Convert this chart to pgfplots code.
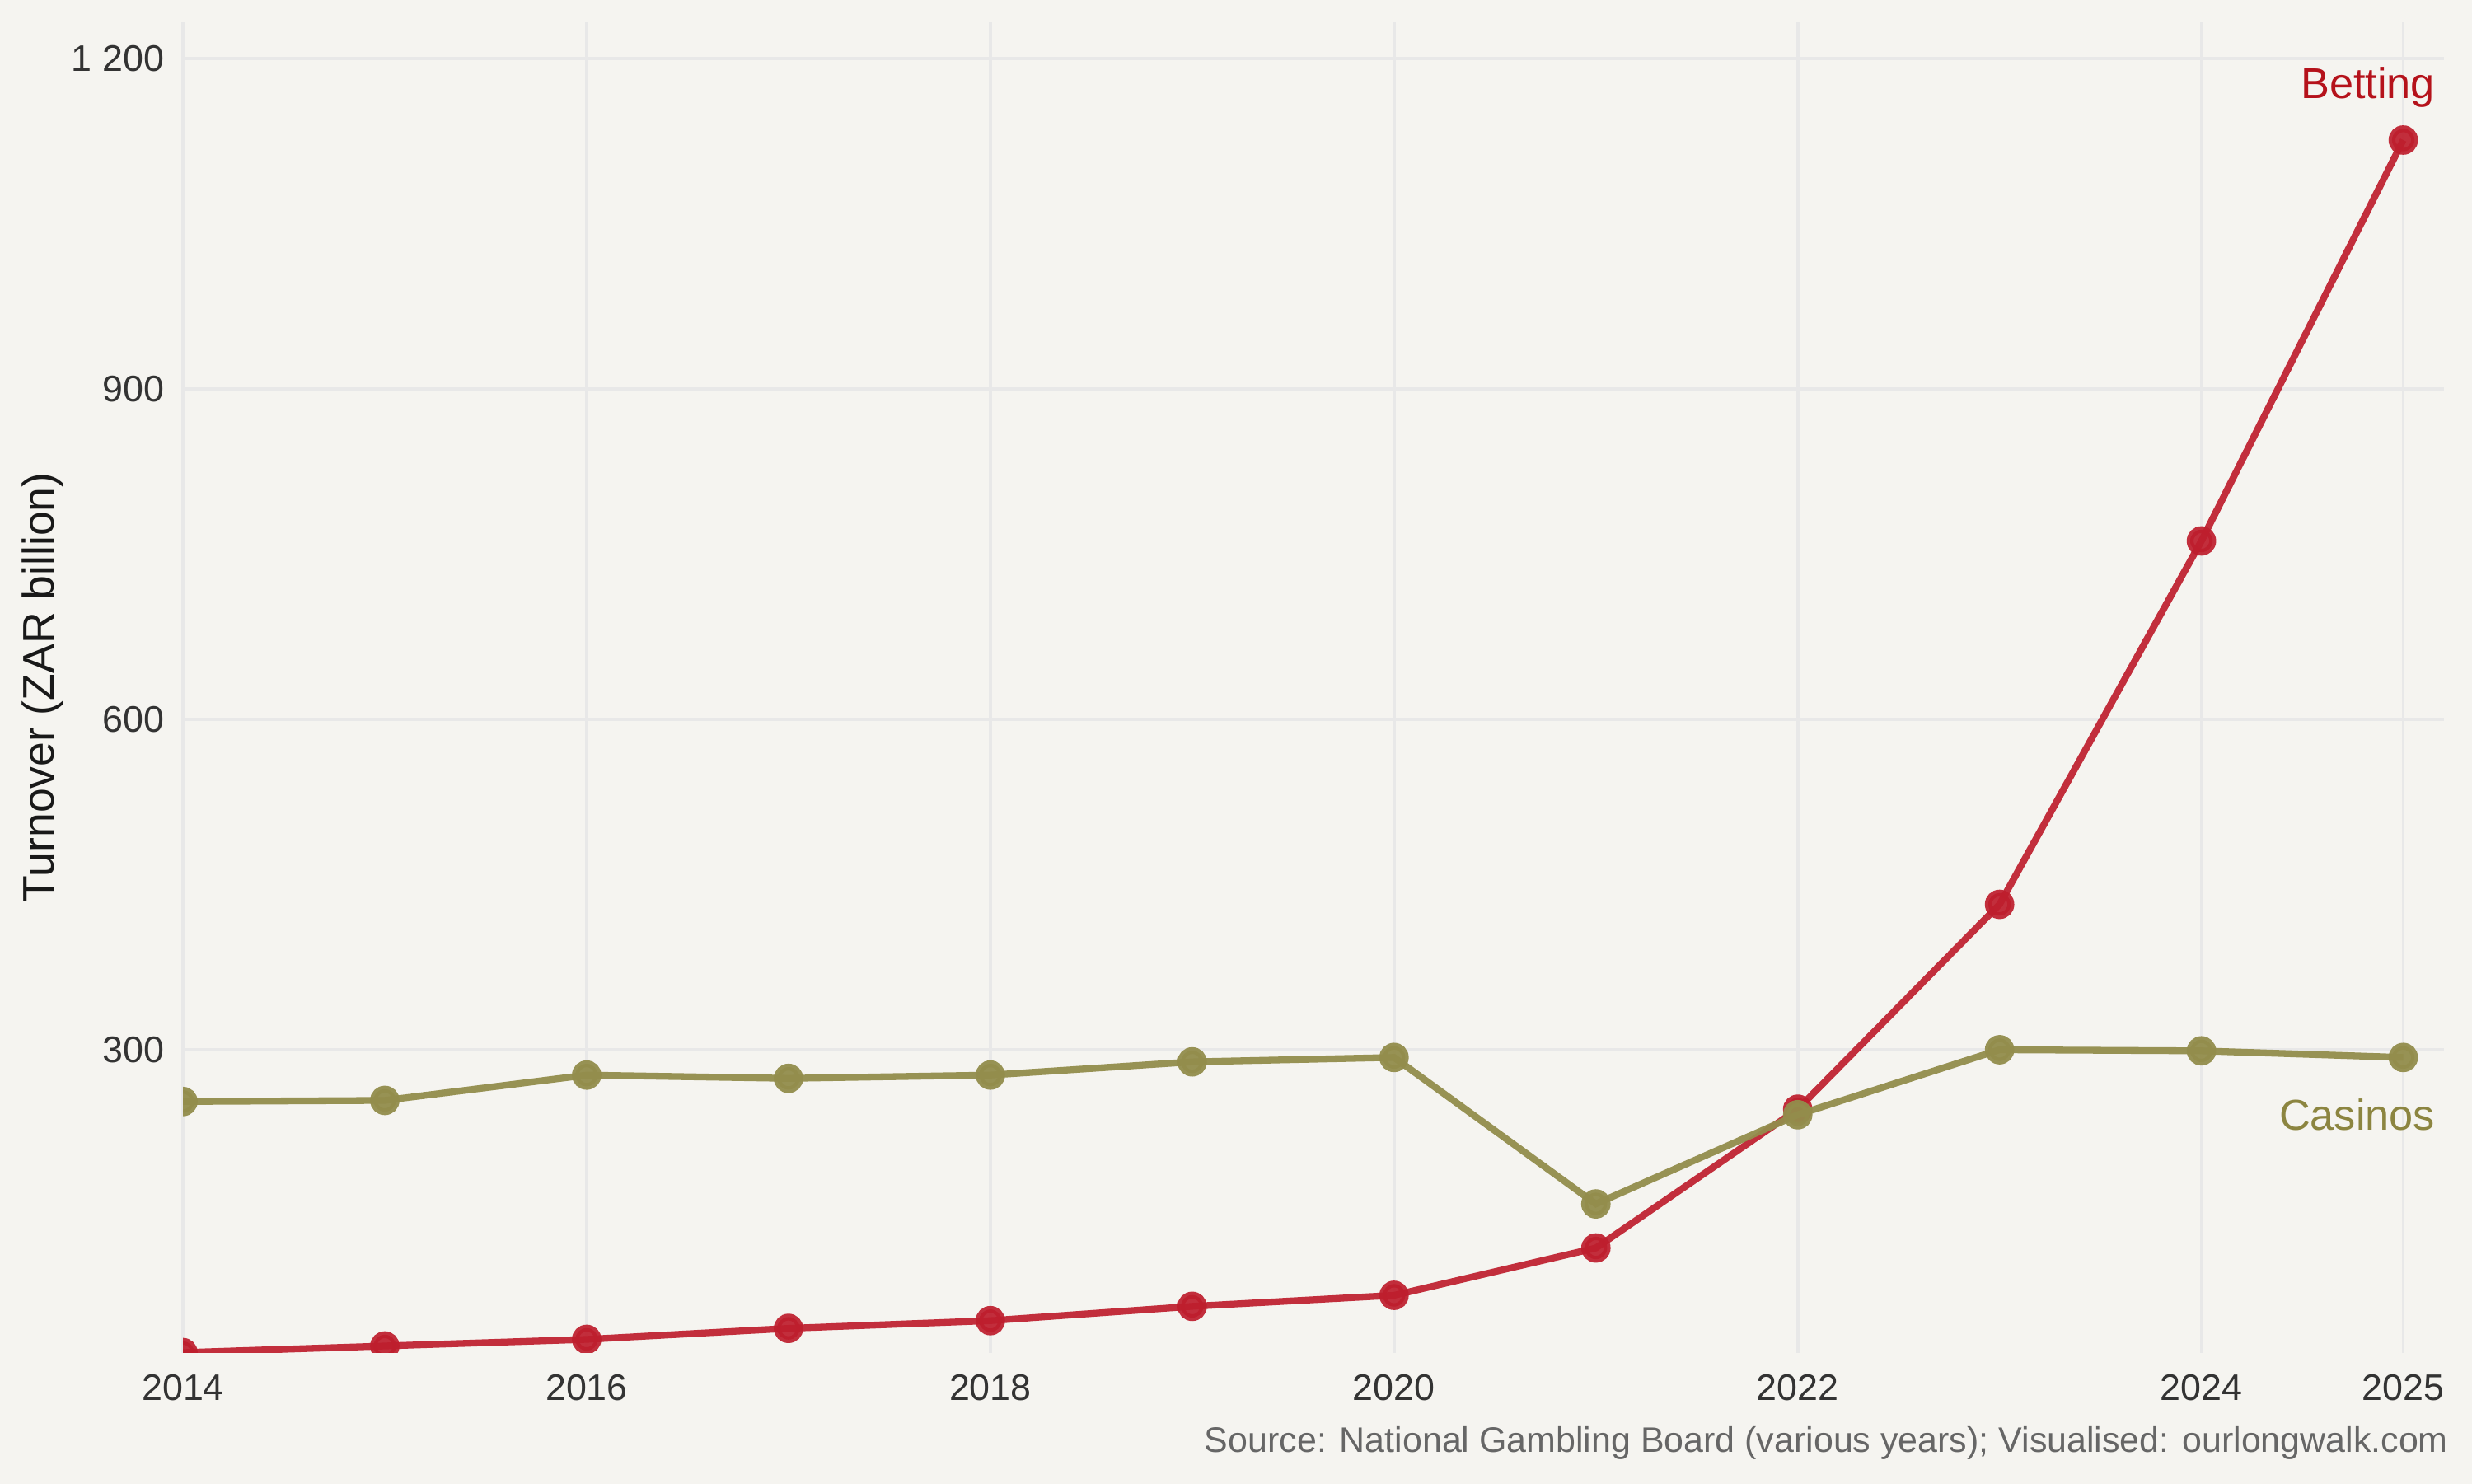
\documentclass[border=0pt]{standalone}
\usepackage{pgfplots}
\pgfplotsset{compat=1.18}
\usepackage{fontspec}
\setmainfont{Liberation Sans}
\definecolor{bg}{HTML}{F5F4F0}
\definecolor{gridc}{HTML}{E8E8E8}
\definecolor{bet}{HTML}{BE1E2D}
\definecolor{betlab}{HTML}{B5121B}
\definecolor{cas}{HTML}{938D4C}
\definecolor{caslab}{HTML}{8C8540}
\definecolor{tick}{HTML}{333333}
\definecolor{src}{HTML}{666666}
\begin{document}
\begin{tikzpicture}
\fill[bg] (-53.5pt,-38.3pt) rectangle (669.3pt,395.5pt);
\begin{axis}[
  at={(0,0)}, anchor=south west,
  width=661pt, height=389pt, scale only axis,
  xmin=2014, xmax=2025.2, ymin=25, ymax=1233,
  clip=true, clip mode=global, clip marker paths=true,
  axis line style={draw=none}, major tick length=0pt,
  xtick={2014,2016,2018,2020,2022,2024,2025},
  xticklabels={2014,2016,2018,2020,2022,2024,2025},
  ytick={300,600,900,1200},
  yticklabels={300,600,900,1 200},
  grid=major, major grid style={gridc, line width=0.9pt},
  tick label style={font=\fontsize{10.8}{12}\selectfont, text=tick},
  xticklabel style={yshift=-3pt},
  yticklabel style={xshift=-2pt},
]
\addplot[bet, line width=2pt, draw opacity=0.92, mark=*, mark size=3.3pt,
  mark options={fill=bet, draw=bet, fill opacity=0.92, draw opacity=0.92}] coordinates {
  (2014,25) (2015,31) (2016,37) (2017,47) (2018,54) (2019,67) (2020,77)
  (2021,120) (2022,246) (2023,432) (2024,762) (2025,1126)
};
\addplot[cas, line width=2pt, draw opacity=0.95, mark=*, mark size=3.3pt,
  mark options={fill=cas, draw=cas, fill opacity=0.95, draw opacity=0.95}] coordinates {
  (2014,253) (2015,254) (2016,277) (2017,274) (2018,277) (2019,289) (2020,293)
  (2021,160) (2022,241) (2023,300) (2024,299) (2025,293)
};
\node[anchor=east, inner sep=0pt, text=betlab, font=\fontsize{12.6}{14}\selectfont] at (axis cs:2025.16,1174) {Betting};
\node[anchor=east, inner sep=0pt, text=caslab, font=\fontsize{12.6}{14}\selectfont] at (axis cs:2025.16,241) {Casinos};
\end{axis}
\node[rotate=90, anchor=center, font=\fontsize{12.9}{14}\selectfont, text=black!90] at (-41pt,194.5pt) {Turnover (ZAR billion)};
\node[anchor=east, inner sep=0pt, font=\fontsize{10.35}{12}\selectfont, text=src] at (662.5pt,-26.5pt) {Source: National Gambling Board (various years); Visualised: ourlongwalk.com};
\end{tikzpicture}
\end{document}
